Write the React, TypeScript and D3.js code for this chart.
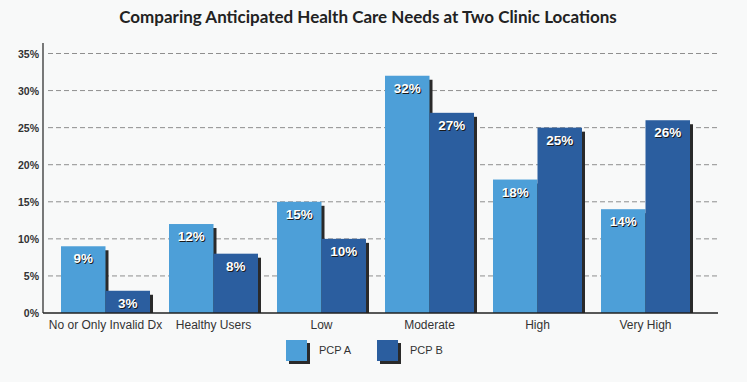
import React from "react";
import * as d3 from "d3";

const categories = ["No or Only Invalid Dx", "Healthy Users", "Low", "Moderate", "High", "Very High"];
const seriesNames = ["PCP A", "PCP B"];
const pcpA = [9, 12, 15, 32, 18, 14];
const pcpB = [3, 8, 10, 27, 25, 26];
const yTicks = [0, 5, 10, 15, 20, 25, 30, 35];

const W = 747;
const H = 382;
const colors = ["#4D9FD8", "#2B5E9F"];
const shadow = "#2A2A2A";

export default function App() {
  const x0 = d3.scaleBand<string>().domain(categories).range([61, 690]).paddingInner(19 / 108).paddingOuter(0);
  const x1 = d3.scaleBand<string>().domain(seriesNames).range([0, x0.bandwidth()]).padding(0);
  const y = d3.scaleLinear().domain([0, 35]).range([313, 53.5]);
  const series = [pcpA, pcpB];
  const font = "'Liberation Sans', Arial, sans-serif";

  return (
    <svg width={W} height={H} style={{ position: "absolute", left: 0, top: 0, background: "#F8F9F9" }}>
      <rect x={0} y={0} width={W} height={H} fill="#F8F9F9" />
      <text x={368} y={23} textAnchor="middle" fontFamily="Lato, 'Open Sans', sans-serif" fontWeight={700} fontSize={17} fill="#222">
        Comparing Anticipated Health Care Needs at Two Clinic Locations
      </text>
      {yTicks.map((t) => (
        <g key={t}>
          {t > 0 && (
            <line x1={48} x2={718} y1={y(t)} y2={y(t)} stroke="#8F8F8F" strokeWidth={1} strokeDasharray="5,3" />
          )}
          <text x={39} y={y(t) + 4} textAnchor="end" fontFamily={font} fontWeight={700} fontSize={10.5} fill="#333">
            {t}%
          </text>
        </g>
      ))}
      {categories.map((c, i) =>
        seriesNames.map((s, j) => {
          const v = series[j][i];
          const bx = (x0(c) as number) + (x1(s) as number);
          const bw = x1.bandwidth();
          const by = y(v);
          return (
            <g key={c + s}>
              <rect x={bx + 3} y={by + 4} width={bw} height={y(0) - by - 4} fill={shadow} />
              <rect x={bx} y={by} width={bw} height={y(0) - by} fill={colors[j]} />
            </g>
          );
        })
      )}
      {categories.map((c, i) =>
        seriesNames.map((s, j) => {
          const v = series[j][i];
          const cx = (x0(c) as number) + (x1(s) as number) + x1.bandwidth() / 2;
          const by = y(v);
          return (
            <g key={"l" + c + s} fontFamily={font} fontWeight={700} fontSize={13.5} textAnchor="middle">
              <text x={cx + 1} y={by + 18} fill="#1a1a1a">{v}%</text>
              <text x={cx} y={by + 17} fill="#ffffff">{v}%</text>
            </g>
          );
        })
      )}
      <line x1={43} x2={43} y1={43} y2={313} stroke="#222" strokeWidth={1.2} />
      <line x1={43} x2={718} y1={313} y2={313} stroke="#222" strokeWidth={1.5} />
      {categories.map((c) => (
        <text key={"c" + c} x={(x0(c) as number) + x0.bandwidth() / 2} y={329} textAnchor="middle" fontFamily={font} fontSize={12} fill="#333">
          {c}
        </text>
      ))}
      {seriesNames.map((s, j) => {
        const lx = [286, 377][j];
        return (
          <g key={"lg" + s}>
            <rect x={lx + 3} y={343} width={21} height={21} fill={shadow} />
            <rect x={lx} y={340} width={21} height={21} fill={colors[j]} />
            <text x={lx + 33} y={354} fontFamily={font} fontSize={11} fill="#333">{s}</text>
          </g>
        );
      })}
    </svg>
  );
}
